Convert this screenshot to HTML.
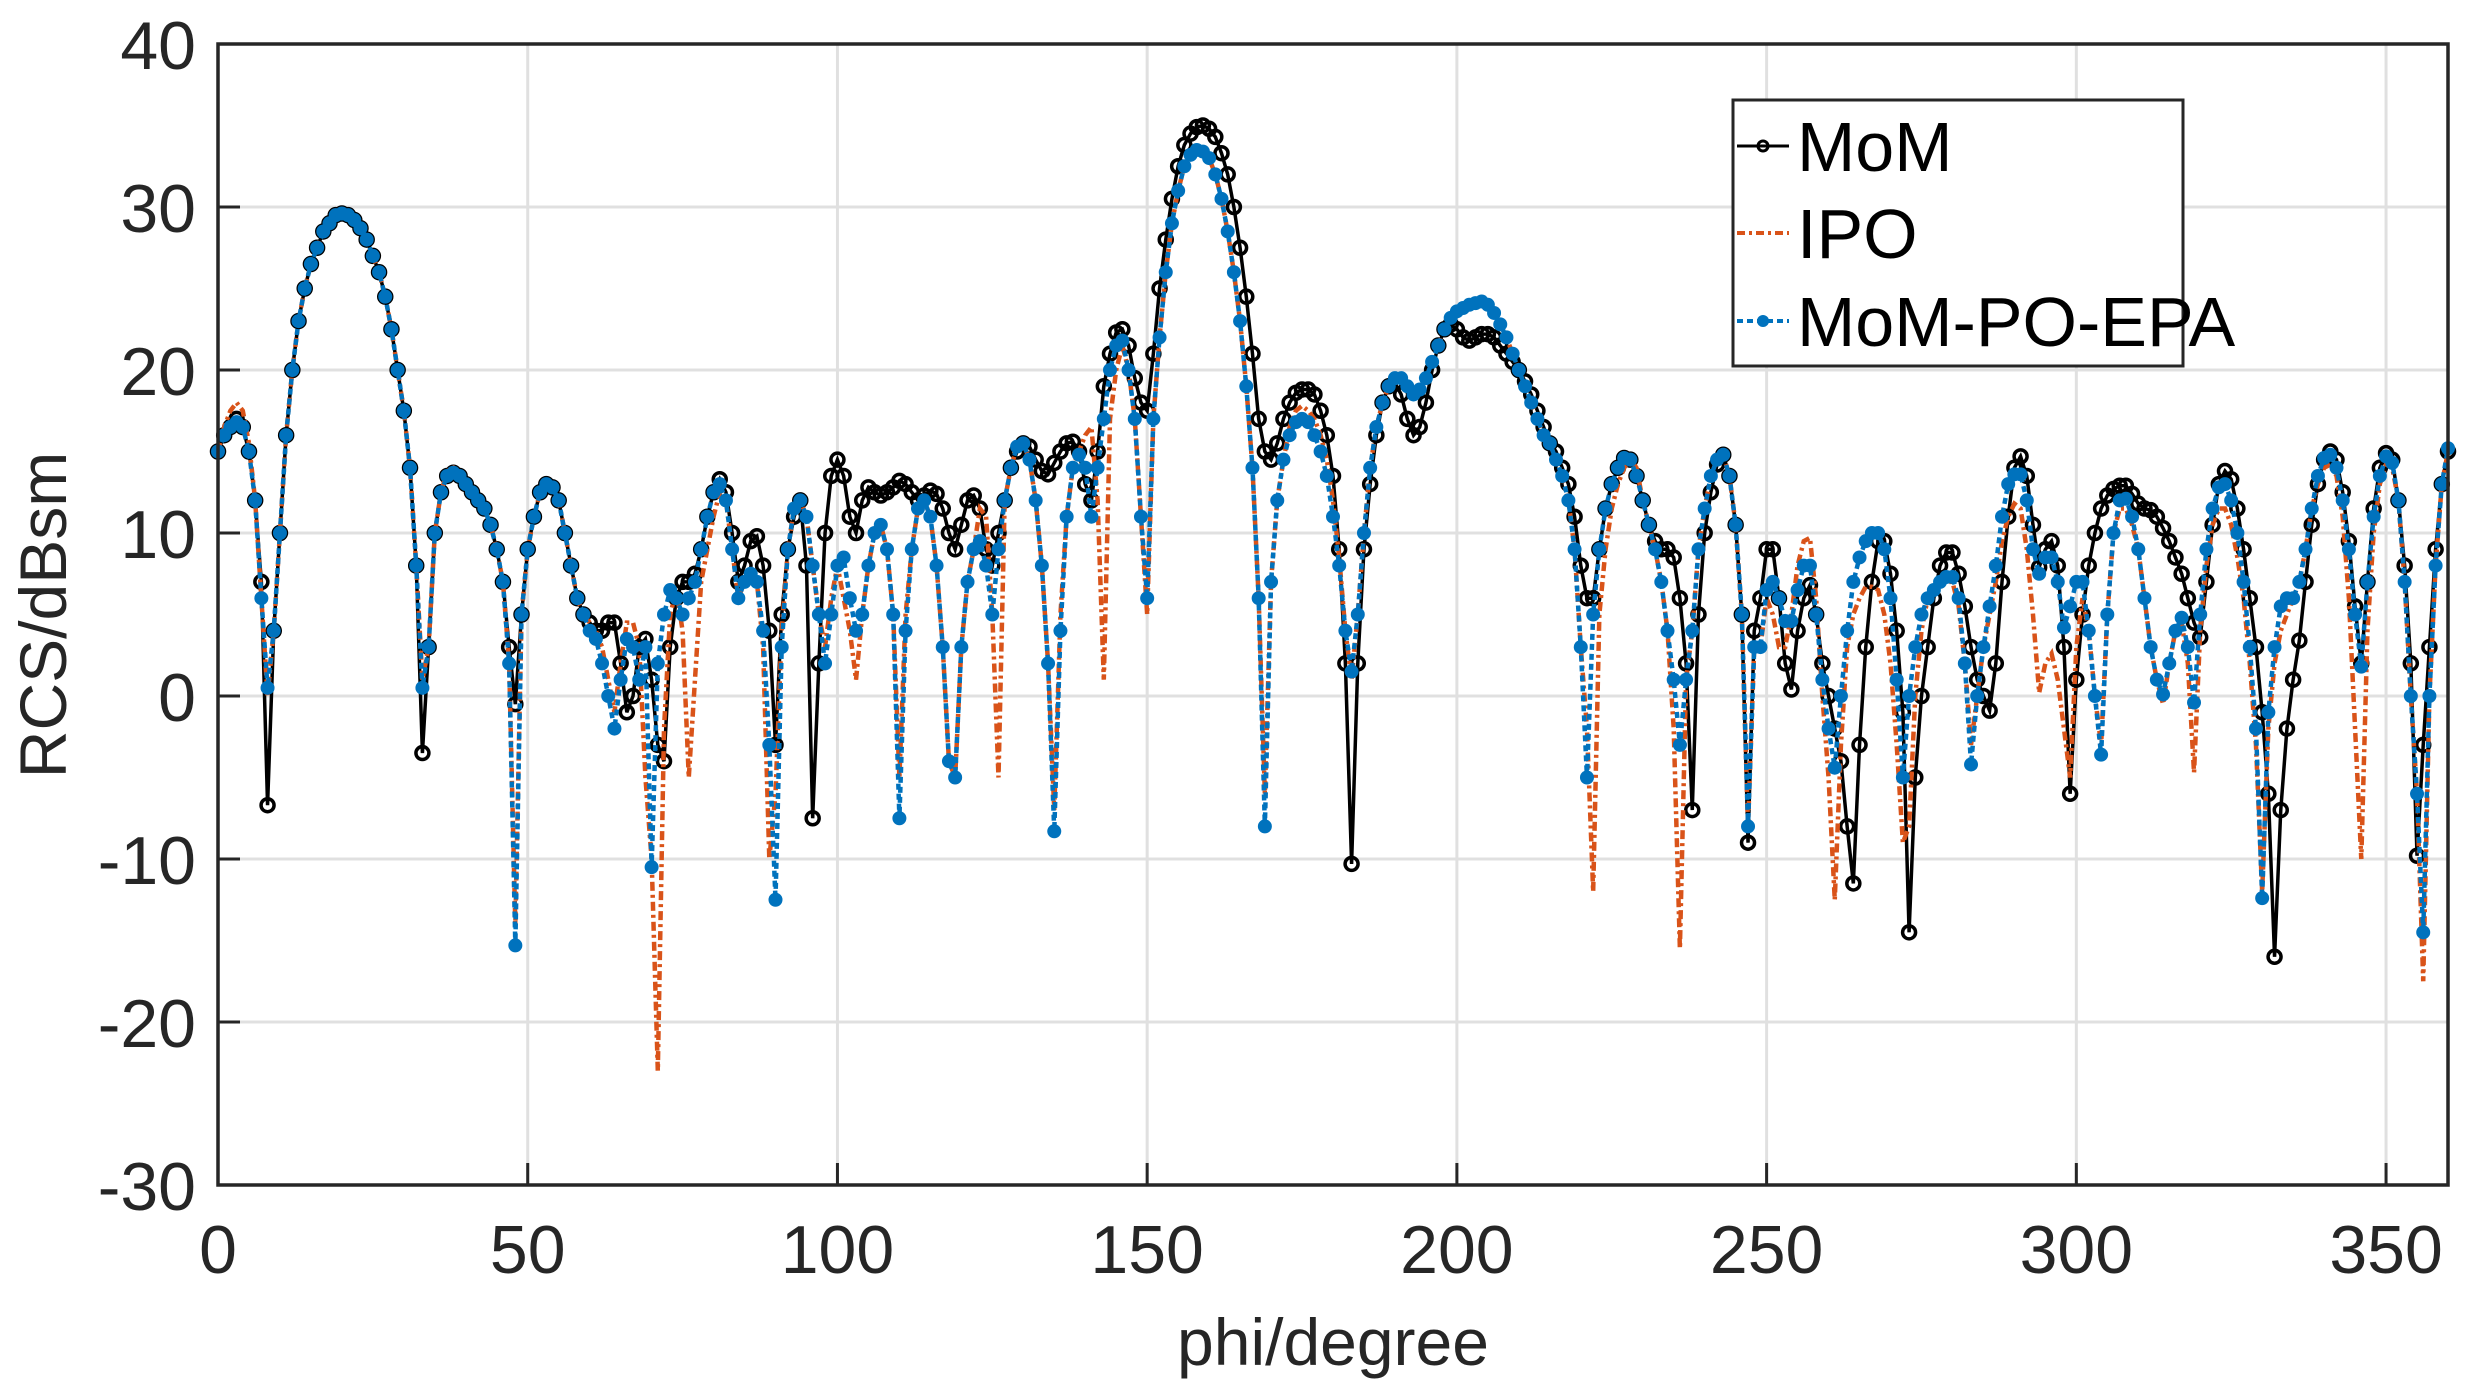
<!DOCTYPE html>
<html><head><meta charset="utf-8"><style>
html,body{margin:0;padding:0;background:#fff;}
svg{display:block;font-family:"Liberation Sans",Arial,sans-serif;}
</style></head><body>
<svg id="chart" width="2472" height="1392" viewBox="0 0 2472 1392" xmlns="http://www.w3.org/2000/svg">
<rect x="0" y="0" width="2472" height="1392" fill="#fff"/>
<g id="grid"></g>
<g id="series"></g>
<g id="axes"></g>
<text x="1333" y="1365" font-size="66" fill="#262626" text-anchor="middle">phi/degree</text>
<text transform="translate(66,615) rotate(-90)" font-size="66" fill="#262626" text-anchor="middle">RCS/dBsm</text>
<g>
<rect x="1733" y="100" width="450" height="266" fill="#fff" stroke="#262626" stroke-width="3"/>
<g>
<line x1="1737" y1="146" x2="1789" y2="146" stroke="#000" stroke-width="3"/>
<circle cx="1763" cy="146" r="5" fill="none" stroke="#000" stroke-width="3"/>
<text x="1797" y="171" font-size="70" fill="#000">MoM</text></g>
<g>
<line x1="1737" y1="233" x2="1789" y2="233" stroke="#D95319" stroke-width="4" stroke-dasharray="8,4,3,4"/>
<text x="1797" y="258" font-size="70" fill="#000">IPO</text></g>
<g>
<line x1="1737" y1="321" x2="1789" y2="321" stroke="#0072BD" stroke-width="4" stroke-dasharray="6,4"/>
<circle cx="1763" cy="321" r="6" fill="#0072BD"/>
<text x="1797" y="346" font-size="70" fill="#000">MoM-PO-EPA</text></g>
</g>
</svg>
<script>
const xTicks=[0,50,100,150,200,250,300,350];
const yTicks=[-30,-20,-10,0,10,20,30,40];
const mom=[
15,16,16.5,17,16.5,15,12,7,-6.7,4,
10,16,20,23,25,26.5,27.5,28.5,29,29.5,
29.6,29.5,29.2,28.7,28,27,26,24.5,22.5,20,
17.5,14,8,-3.5,3,10,12.5,13.5,13.7,13.5,
13,12.5,12,11.5,10.5,9,7,3,-0.5,5,
9,11,12.5,13,12.8,12,10,8,6,5,
4.5,4,4,4.5,4.5,2,-1,0,3,3.5,
1,-3,-4,3,6,7,7,7.5,9,11,
12.5,13.3,12.5,10,7,8,9.5,9.8,8,4,
-3,5,9,11,12,8,-7.5,2,10,13.5,
14.5,13.5,11,10,12,12.8,12.5,12.3,12.5,12.8,
13.2,13,12.5,12,12.3,12.6,12.4,11.5,10,9,
10.5,12,12.3,11.5,9,8,10,12,14,15,
15.5,15.3,14.5,13.8,13.6,14.3,15,15.5,15.6,15,
13,12,15,19,21,22.3,22.5,21.5,19.5,18,
17.5,21,25,28,30.5,32.5,33.8,34.5,34.9,35,
34.8,34.3,33.3,32,30,27.5,24.5,21,17,15,
14.5,15.5,17,18,18.6,18.8,18.8,18.5,17.5,16,
13.5,9,2,-10.3,2,9,13,16,18,19,
19.2,18.5,17,16,16.5,18,20,21.5,22.5,22.8,
22.5,22,21.8,22,22.2,22.2,22,21.5,21,20.5,
20,19.3,18.5,17.5,16.5,15.5,15,14,13,11,
8,6,6,9,11.5,13,14,14.6,14.5,13.5,
12,10.5,9.5,9,9,8.5,6,2,-7,5,
10,12.5,14.2,14.8,13.5,10.5,5,-9,4,6,
9,9,6,2,0.4,4,6,6.8,5,2,
0,-2,-4,-8,-11.5,-3,3,7,9.5,9.5,
7.5,4,-1,-14.5,-5,0,3,6,8,8.8,
8.8,7.5,5.5,3,1,0,-0.9,2,7,11,
14,14.7,13.5,10.5,7.9,9,9.5,8,3,-6,
1,5,8,10,11.5,12.3,12.7,12.9,12.9,12.4,
11.8,11.5,11.4,11,10.3,9.5,8.5,7.5,6,4.5,
3.6,7,10.5,13,13.8,13.3,11.5,9,6,3,
-1,-6,-16,-7,-2,1,3.4,7,10.5,13,
14.5,15,14.5,12.5,9.5,5.5,2,7,11.5,14,
14.9,14.5,12,8,2,-9.8,-3,3,9,13,
15];
const ipo=[
15,16.5,17.5,18,17.5,15.5,12,6,0,4,
10,16,20,23,25,26.5,27.5,28.5,29,29.5,
29.6,29.5,29.2,28.7,28,27,26,24.5,22.5,20,
17.5,14,8,1,3,10,12.5,13.8,14,13.5,
13,12.5,12,11.5,10.5,9,7,2,-14,5,
9,11,12.5,13,12.8,12,10,8,6,5,
4.5,4,3,1,-1,2,4.5,4.5,3,-5,
-10,-23,-2,5,6.5,4,-5,1,7,9,
11,12.5,12,9,6,7,7.5,7,3,-10,
-6,4,9,11.5,12,11,8,5,3,6,
8,6,4,1,5,8,10,10.5,9,5,
-5,5,9,11.5,12,11,8,3,-4,-5,
3,7,9,11.5,11,5,-5,12,14,15.3,
15.5,14.5,12,8,2,-7,5,11,14,15,
16,16.5,12,1,17,20,21.5,20,17,11,
5,17,22,26,29,31,32.5,33.2,33.5,33.4,
33,32,30.5,28.5,26,23,19,14,6,-6,
7,12,14.5,16.5,17.5,17.8,17.5,17,16,14.5,
12,8.5,4,1,5,10,14,16.5,18,19,
19.5,19.5,19,18.5,18.8,19.5,20.5,21.5,22.5,23.2,
23.6,23.8,24,24.1,24.2,24,23.5,22.8,22,21,
20,19,18,17,16,15.5,14.5,13.5,12,9,
3,-2,-12,5,9,11.5,13,14,14.5,14,
12,10.5,9,7,4,-2,-15.5,1,4,9,
11.5,13.5,14.5,14.8,13.5,10.5,5,-8,3,3,
6,5,3,3,5,8,9.5,9.7,6,0,
-5,-12.5,-3,3,5,6,6.7,6.7,6.5,5,
2,-3,-9,-8,0,4,6,6.5,7,7,
7,5.5,2,-3,0,3,5,7,9.5,11,
11.8,11.5,9,5,0.2,2,2.6,1,-2,-5,
3,6,4,0,-3,5,10,11.5,11.5,10.5,
9,6,3,1,-0.5,2,4,4.5,2,-4.7,
4,8,10.5,11.5,11.5,10.5,8.5,6,2,-3,
-12,-2,2,4,5,6,7,9,11.5,13,
14,14.2,13.5,11,6,-2,-10,4,10,13,
14.2,14,12,7,0,-6,-17.5,0,8,13,
15];
const epa=[
15,16,16.5,16.8,16.5,15,12,6,0.5,4,
10,16,20,23,25,26.5,27.5,28.5,29,29.5,
29.6,29.5,29.2,28.7,28,27,26,24.5,22.5,20,
17.5,14,8,0.5,3,10,12.5,13.5,13.7,13.5,
13,12.5,12,11.5,10.5,9,7,2,-15.3,5,
9,11,12.5,13,12.8,12,10,8,6,5,
4,3.5,2,0,-2,1,3.5,3,1,3,
-10.5,2,5,6.5,6,5,6,7,9,11,
12.5,13,12,9,6,7,7.5,7,4,-3,
-12.5,3,9,11.5,12,11,8,5,2,5,
8,8.5,6,4,5,8,10,10.5,9,5,
-7.5,4,9,11.5,12,11,8,3,-4,-5,
3,7,9,9.5,8,5,9,12,14,15.3,
15.5,14.5,12,8,2,-8.3,4,11,14,14.8,
14,11,14,17,20,21.5,21.8,20,17,11,
6,17,22,26,29,31,32.5,33.2,33.5,33.4,
33,32,30.5,28.5,26,23,19,14,6,-8,
7,12,14.5,16,16.8,17,16.8,16,15,13.5,
11,8,4,1.5,5,10,14,16.5,18,19,
19.5,19.5,19,18.5,18.8,19.5,20.5,21.5,22.5,23.2,
23.6,23.8,24,24.1,24.2,24,23.5,22.8,22,21,
20,19,18,17,16,15.5,14.5,13.5,12,9,
3,-5,5,9,11.5,13,14,14.6,14.5,13.5,
12,10.5,9,7,4,1,-3,1,4,9,
11.5,13.5,14.5,14.8,13.5,10.5,5,-8,3,3,
6.5,7,6,4.6,4.6,6.5,8,8,5,1,
-2,-4.4,0,4,7,8.5,9.5,10,10,9,
6,1,-5,0,3,5,6,6.5,7,7.3,
7.3,6,2,-4.2,0,3,5.5,8,11,13,
13.6,13.6,12,9,7.5,8.5,8.5,7,4.2,5.5,
7,7,4,0,-3.6,5,10,12,12.1,11,
9,6,3,1,0.1,2,4,4.8,3,-0.4,
5,9,11.5,12.8,13,12,10,7,3,-2,
-12.4,-1,3,5.5,6,6,7,9,11.5,13.5,
14.6,14.8,14,12,9,5,1.8,7,11,13.5,
14.7,14.3,12,7,0,-6,-14.5,0,8,13,
15.2];

const NS="http://www.w3.org/2000/svg";
const L=218,R=2448,T=44,B=1185,XMIN=0,XMAX=360,YMIN=-30,YMAX=40;
function xs(v){return L+(v-XMIN)/(XMAX-XMIN)*(R-L);}
function ys(v){return B-(v-YMIN)/(YMAX-YMIN)*(B-T);}
function mk(tag,attrs,parent){const e=document.createElementNS(NS,tag);for(const k in attrs)e.setAttribute(k,attrs[k]);parent.appendChild(e);return e;}
const grid=document.getElementById('grid'),axes=document.getElementById('axes'),ser=document.getElementById('series');
xTicks.forEach(t=>{
  const g=mk('line',{x1:xs(t),x2:xs(t),y1:T,y2:B,stroke:'#e0e0e0','stroke-width':3},grid);
  
  
  const tk=mk('line',{x1:xs(t),x2:xs(t),y1:B,y2:B-22,stroke:'#262626','stroke-width':3},axes);
  
  
  const lb=mk('text',{x:xs(t),y:B+88,'font-size':68,fill:'#262626','text-anchor':'middle'},axes);
  lb.textContent=t;
  
  
});
yTicks.forEach(t=>{
  const g=mk('line',{x1:L,x2:R,y1:ys(t),y2:ys(t),stroke:'#e0e0e0','stroke-width':3},grid);
  
  
  const tk=mk('line',{x1:L,x2:L+22,y1:ys(t),y2:ys(t),stroke:'#262626','stroke-width':3},axes);
  
  
  const lb=mk('text',{x:L-22,y:ys(t)+25,'font-size':68,fill:'#262626','text-anchor':'end'},axes);
  lb.textContent=t;
  
  
});
const box=mk('rect',{x:L,y:T,width:R-L,height:B-T,fill:'none',stroke:'#262626','stroke-width':3.5},axes);



function pts(arr){return arr.map((v,i)=>xs(i)+','+ys(v)).join(' ');}
const gm=mk('g',{},ser);


mk('polyline',{points:pts(mom),fill:'none',stroke:'#000','stroke-width':3.5},gm);
mom.forEach((v,i)=>{const c=mk('circle',{cx:xs(i),cy:ys(v),r:6.5,fill:'none',stroke:'#000','stroke-width':3.5},gm);
  
  });
const gi=mk('g',{},ser);


mk('polyline',{points:pts(ipo),fill:'none',stroke:'#D95319','stroke-width':4.5,'stroke-dasharray':'9,4,3,4'},gi);
const ge=mk('g',{},ser);


mk('polyline',{points:pts(epa),fill:'none',stroke:'#0072BD','stroke-width':4.5,'stroke-dasharray':'6,4'},ge);
epa.forEach((v,i)=>{const c=mk('circle',{cx:xs(i),cy:ys(v),r:7,fill:'#0072BD'},ge);
  
  });
</script>
</body></html>
